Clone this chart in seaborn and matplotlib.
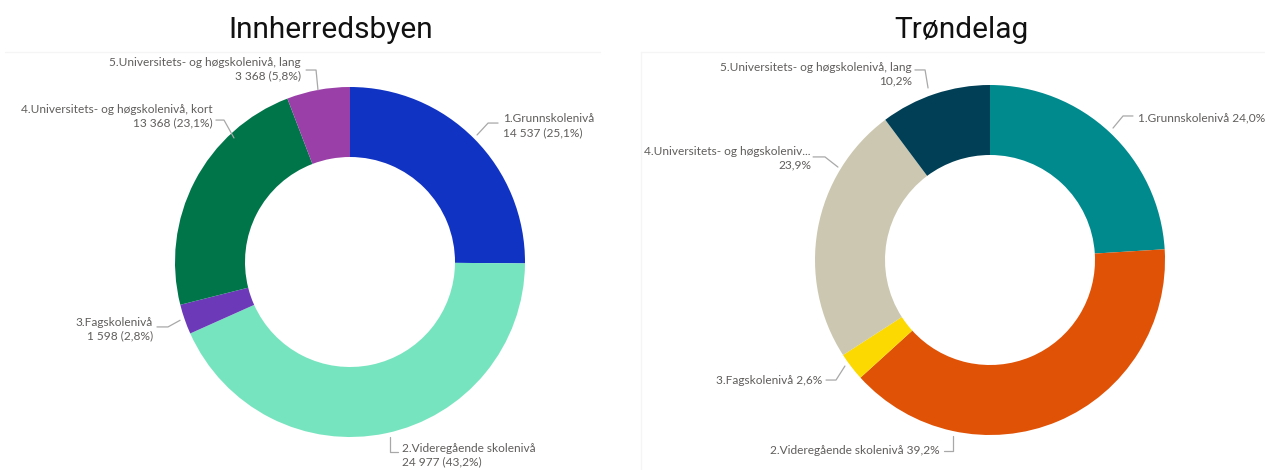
import matplotlib
matplotlib.use("Agg")
import matplotlib.pyplot as plt
from matplotlib.lines import Line2D
import seaborn as sns

# Education level categories
categories = [
    "1.Grunnskolenivå",
    "2.Videregående skolenivå",
    "3.Fagskolenivå",
    "4.Universitets- og høgskolenivå, kort",
    "5.Universitets- og høgskolenivå, lang",
]

# Innherredsbyen: head counts and shares
innherred_counts = [14537, 24977, 1598, 13368, 3368]
innherred_pct = ["25,1%", "43,2%", "2,8%", "23,1%", "5,8%"]
innherred_colors = ["#1133C4", "#77E4C0", "#6C3AB8", "#00754A", "#9A3FA8"]

# Trøndelag: shares in percent
trondelag_pct = [24.0, 39.2, 2.6, 23.9, 10.2]
trondelag_names = [
    "1.Grunnskolenivå",
    "2.Videregående skolenivå",
    "3.Fagskolenivå",
    "4.Universitets- og høgskoleniv...",
    "5.Universitets- og høgskolenivå, lang",
]
trondelag_colors = ["#008A8E", "#E05206", "#FCD900", "#CCC7B0", "#003F55"]

sns.set_theme(style="white")
plt.rcParams["font.family"] = ["Lato", "DejaVu Sans"]

W, H = 1265, 470
fig = plt.figure(figsize=(W / 100, H / 100), dpi=100)
fig.patch.set_facecolor("white")

R_PX = 175.0  # outer radius of each ring in pixels
TEXT_C = "#605E5C"
LINE_C = "#A8A8A8"
LABEL_FS = 8.6


def ring_axes(px0, px1, py0, py1, cx, cy):
    """Axes spanning a pixel box, with data unit = ring radius, centred on (cx, cy)."""
    ax = fig.add_axes([px0 / W, 1 - py1 / H, (px1 - px0) / W, (py1 - py0) / H])
    lims = ((px0 - cx) / R_PX, (px1 - cx) / R_PX), ((cy - py1) / R_PX, (cy - py0) / R_PX)
    ax.set_axis_off()
    return ax, lims


def draw_ring(ax, lims, values, colors):
    ax.pie(values, colors=colors, startangle=90, counterclock=False,
           radius=1.0, wedgeprops=dict(width=0.40, edgecolor="none"))
    ax.set_xlim(lims[0])
    ax.set_ylim(lims[1])
    ax.set_aspect("auto")


def label(ax, text, pos, ha, leader):
    ax.text(pos[0], pos[1], text, ha=ha, va="center", fontsize=LABEL_FS,
            color=TEXT_C, linespacing=1.3)
    xs, ys = zip(*leader)
    ax.add_line(Line2D(xs, ys, color=LINE_C, lw=0.9))


def fmt_count(n):
    return f"{n:,}".replace(",", " ")


def fmt_pct(v):
    return f"{v:.1f}%".replace(".", ",")


# ---- Innherredsbyen ----
axL, limsL = ring_axes(0, 632, 40, 470, 350, 262)
draw_ring(axL, limsL, innherred_counts, innherred_colors)

txtL = [f"{c}\n{fmt_count(n)} ({p})" for c, n, p in
        zip(categories, innherred_counts, innherred_pct)]

label(axL, txtL[0], (0.874, 0.78), "left",
      [(0.726, 0.726), (0.789, 0.794), (0.846, 0.794)])
label(axL, txtL[1], (0.297, -1.103), "left",
      [(0.229, -1.0), (0.229, -1.086), (0.274, -1.086)])
label(axL, txtL[2], (-1.126, -0.383), "right",
      [(-0.971, -0.333), (-1.040, -0.371), (-1.103, -0.371)])
label(axL, txtL[3], (-0.783, 0.834), "right",
      [(-0.663, 0.709), (-0.72, 0.811), (-0.766, 0.811)])
label(axL, txtL[4], (-0.28, 1.103), "right",
      [(-0.183, 0.983), (-0.194, 1.097), (-0.251, 1.097)])

# ---- Trøndelag ----
axR, limsR = ring_axes(641, 1265, 40, 470, 990, 260)
draw_ring(axR, limsR, trondelag_pct, trondelag_colors)

label(axR, f"{trondelag_names[0]} {fmt_pct(trondelag_pct[0])}", (0.846, 0.811), "left",
      [(0.703, 0.754), (0.76, 0.823), (0.817, 0.823)])
label(axR, f"{trondelag_names[1]} {fmt_pct(trondelag_pct[1])}", (-0.286, -1.091), "right",
      [(-0.211, -1.006), (-0.211, -1.091), (-0.263, -1.091)])
label(axR, f"{trondelag_names[2]} {fmt_pct(trondelag_pct[2])}", (-0.96, -0.686), "right",
      [(-0.829, -0.606), (-0.88, -0.686), (-0.937, -0.686)])
label(axR, f"{trondelag_names[3]}\n{fmt_pct(trondelag_pct[3])}", (-1.023, 0.583), "right",
      [(-0.869, 0.531), (-0.943, 0.589), (-1.011, 0.589)])
label(axR, f"{trondelag_names[4]}\n{fmt_pct(trondelag_pct[4])}", (-0.446, 1.063), "right",
      [(-0.354, 0.983), (-0.371, 1.086), (-0.429, 1.086)])

# Titles
fig.text(331 / W, 1 - 30 / H, "Innherredsbyen", ha="center", va="center",
         fontsize=21.5, family=["Roboto", "DejaVu Sans"], color="#111111")
fig.text(961 / W, 1 - 30 / H, "Trøndelag", ha="center", va="center",
         fontsize=21.5, family=["Roboto", "DejaVu Sans"], color="#111111")

# Faint panel frames
for seg in [((5 / W, 600 / W), (1 - 52 / H, 1 - 52 / H)),
            ((641 / W, 1.0), (1 - 52 / H, 1 - 52 / H)),
            ((641 / W, 641 / W), (0, 1 - 52 / H))]:
    fig.add_artist(Line2D(seg[0], seg[1], color="#F5F5F5", lw=1,
                          transform=fig.transFigure))

fig.savefig("out.png", dpi=100, facecolor="white")
